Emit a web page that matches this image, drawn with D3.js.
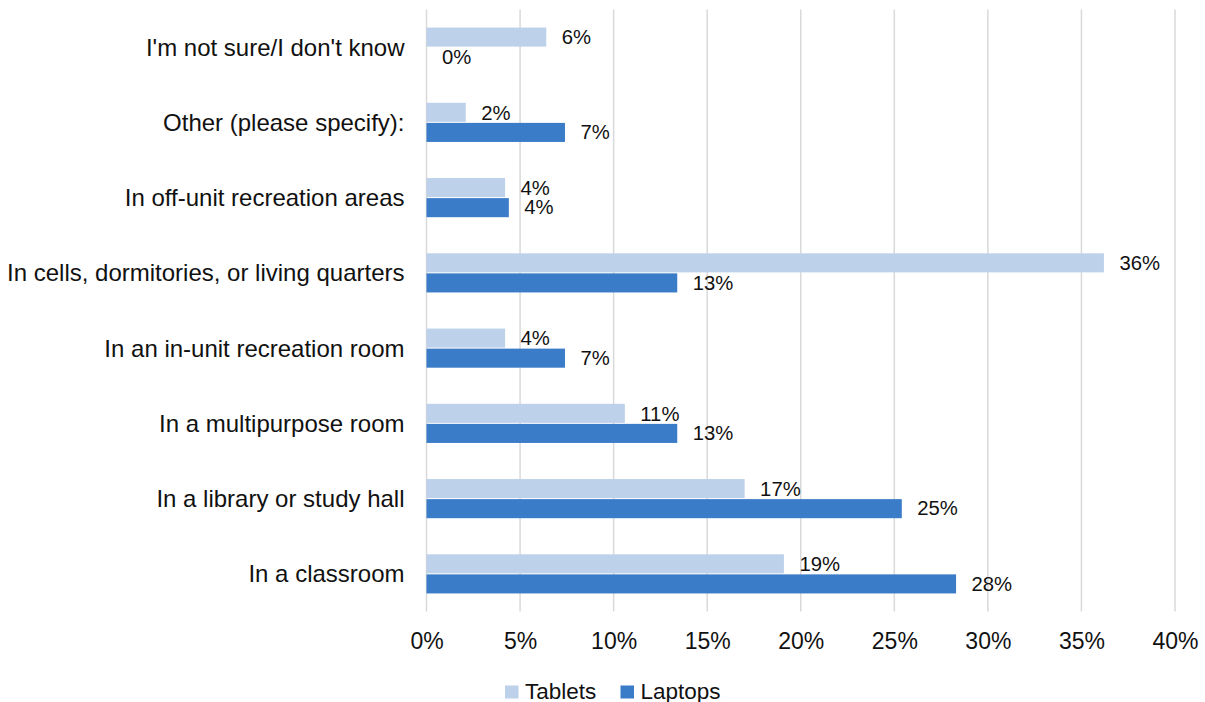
<!DOCTYPE html>
<html>
<head>
<meta charset="utf-8">
<script src="https://cdn.jsdelivr.net/npm/d3@7"></script>
<style>
  html, body { margin: 0; padding: 0; background: #fff; }
  svg { display: block; font-family: "Liberation Sans", Arial, sans-serif; }
</style>
</head>
<body>
<svg id="chart" width="1205" height="702"></svg>
<script>
// Where devices are used, top to bottom
const categories = [
  "I'm not sure/I don't know",
  "Other (please specify):",
  "In off-unit recreation areas",
  "In cells, dormitories, or living quarters",
  "In an in-unit recreation room",
  "In a multipurpose room",
  "In a library or study hall",
  "In a classroom"
];
const seriesNames = ["Tablets", "Laptops"];
// Percent of respondents, same order as categories
const tablets = [6.4, 2.1, 4.2, 36.2, 4.2, 10.6, 17.0, 19.1];
const laptops = [0, 7.4, 4.4, 13.4, 7.4, 13.4, 25.4, 28.3];
const xTicks = [0, 5, 10, 15, 20, 25, 30, 35, 40];
const colors = { Tablets: "#bdd1eb", Laptops: "#3a7cc8" };

const svg = d3.select("#chart");
const plot = { left: 426.5, right: 1175, top: 9.5, bottom: 611.5 };

const x = d3.scaleLinear().domain([0, 40]).range([plot.left, plot.right]);
const y = d3.scaleBand().domain(categories).range([plot.top, plot.bottom])
  .paddingInner(0.48).paddingOuter(0.24);
const ySub = d3.scaleBand().domain(seriesNames).range([0, y.bandwidth()]);

// vertical gridlines
svg.append("g").selectAll("line").data(xTicks).join("line")
  .attr("x1", d => x(d)).attr("x2", d => x(d))
  .attr("y1", plot.top).attr("y2", plot.bottom)
  .attr("stroke", "#d9d9d9").attr("stroke-width", 1.5);

// x axis tick labels
const xAxis = d3.axisBottom(x).tickValues(xTicks).tickSize(0).tickPadding(0)
  .tickFormat(d => d + "%");
const gx = svg.append("g").attr("transform", `translate(0,${plot.bottom})`).call(xAxis);
gx.select(".domain").remove();
gx.selectAll("text").attr("font-size", 23).attr("fill", "#111")
  .attr("font-family", "Liberation Sans, Arial, sans-serif")
  .attr("dy", null).attr("y", 37);

// category labels
const yAxis = d3.axisLeft(y).tickSize(0).tickPadding(0);
const gy = svg.append("g").attr("transform", `translate(${plot.left - 22},0)`).call(yAxis);
gy.select(".domain").remove();
gy.selectAll("text").attr("font-size", 24).attr("fill", "#111")
  .attr("font-family", "Liberation Sans, Arial, sans-serif")
  .attr("dy", "0.35em");

// bars and value labels
const rows = categories.map((c, i) => ({ cat: c, Tablets: tablets[i], Laptops: laptops[i] }));
const groups = svg.append("g").selectAll("g").data(rows).join("g")
  .attr("transform", d => `translate(0,${y(d.cat)})`);

groups.selectAll("rect").data(d => seriesNames.map(s => ({ s, v: d[s] }))).join("rect")
  .attr("x", x(0))
  .attr("y", d => ySub(d.s) + (d.s === "Laptops" ? 0.5 : 0))
  .attr("width", d => x(d.v) - x(0))
  .attr("height", ySub.bandwidth() - 0.5)
  .attr("fill", d => colors[d.s]);

groups.selectAll("text").data(d => seriesNames.map(s => ({ s, v: d[s] }))).join("text")
  .attr("x", d => x(d.v) + 15.5)
  .attr("y", d => ySub(d.s) + ySub.bandwidth() / 2)
  .attr("dy", "0.35em")
  .attr("font-size", 20.3).attr("fill", "#111")
  .text(d => Math.round(d.v) + "%");

// legend
const legend = svg.append("g").attr("transform", "translate(505,685.5)");
const legendX = { Tablets: 0, Laptops: 115.5 };
seriesNames.forEach(s => {
  const g = legend.append("g").attr("transform", `translate(${legendX[s]},0)`);
  g.append("rect").attr("width", 13.5).attr("height", 13).attr("fill", colors[s]);
  g.append("text").attr("x", 20).attr("y", 13).attr("font-size", 22.5).attr("fill", "#111").text(s);
});
</script>
</body>
</html>
